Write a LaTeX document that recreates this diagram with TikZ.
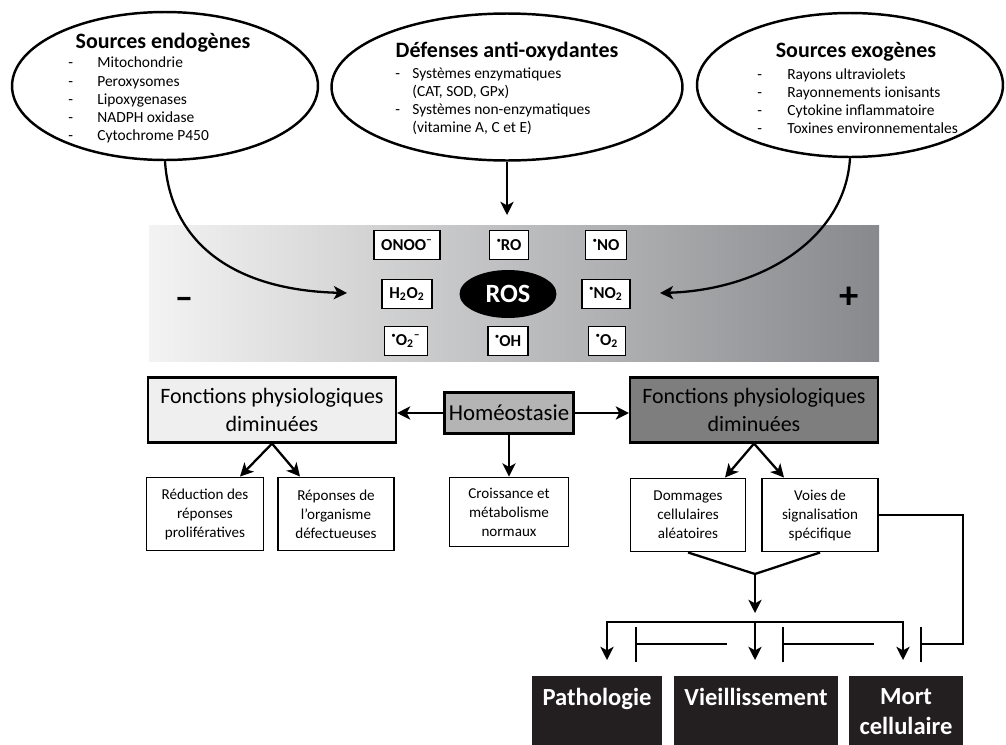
\documentclass[tikz,border=0pt]{standalone}
\usepackage{fontspec}
\setmainfont{Carlito}
\usepackage{xcolor}
\usetikzlibrary{arrows.meta, positioning, shapes.geometric}

\definecolor{bandlight}{HTML}{F3F3F3}
\definecolor{banddark}{HTML}{88898C}
\definecolor{boxlight}{HTML}{EFEFEF}
\definecolor{boxmid}{HTML}{B4B4B4}
\definecolor{boxdark}{HTML}{7E7E7E}
\definecolor{boxblack}{HTML}{231F20}

\newcommand{\radi}{\raisebox{0.55ex}{·}}
\newcommand{\chargeneg}{\textsuperscript{–}}

\begin{document}
\begin{tikzpicture}[x=0.02cm, y=-0.02cm, every node/.style={font=\small},
    >={Stealth[length=7.5pt, width=7.5pt, inset=2pt]}]
  \tikzset{
    source/.style={ellipse, draw, line width=1.4pt, minimum width=6.12cm, minimum height=2.96cm},
    heading/.style={font=\fontsize{12.5}{14}\selectfont\bfseries},
    itemlist/.style={align=left, font=\fontsize{8.8}{10.3}\selectfont, inner sep=0pt},
    species/.style={draw, fill=white, line width=0.9pt, font=\fontsize{9.5}{10}\selectfont\bfseries,
      minimum height=0.58cm, inner xsep=4pt},
    fbox/.style={draw, line width=1.2pt, minimum width=4.96cm, minimum height=1.3cm, align=center,
      font=\fontsize{12.5}{16}\selectfont},
    subbox/.style={draw, fill=white, line width=1.1pt, minimum height=1.46cm, align=center,
      font=\fontsize{8.6}{10.8}\selectfont},
    outcome/.style={fill=boxblack, text=white, minimum height=1.4cm, align=center, anchor=north,
      font=\fontsize{14}{17}\selectfont\bfseries, inner sep=0pt},
    link/.style={line width=1.3pt},
  }
  \useasboundingbox (0,0) rectangle (1006,744);

  % sources and defences
  \node[source] (endo) at (165,86) {};
  \node[source, minimum width=7.02cm, minimum height=2.94cm] (defense) at (507,87) {};
  \node[source, minimum height=2.88cm] (exo) at (850,85) {};

  \node[heading] (endotitle) at (163,43) {Sources endogènes};
  \node[itemlist, anchor=west] (endoitems) at (68,100) {%
    \makebox[0.58cm][l]{-}Mitochondrie\\
    \makebox[0.58cm][l]{-}Peroxysomes\\
    \makebox[0.58cm][l]{-}Lipoxygenases\\
    \makebox[0.58cm][l]{-}NADPH oxidase\\
    \makebox[0.58cm][l]{-}Cytochrome P450};

  \node[heading] (deftitle) at (507,52) {Défenses anti-oxydantes};
  \node[itemlist, anchor=west] (defitems) at (395,101) {%
    \makebox[0.34cm][l]{-}Systèmes enzymatiques\\
    \hspace*{0.34cm}(CAT, SOD, GPx)\\
    \makebox[0.34cm][l]{-}Systèmes non-enzymatiques\\
    \hspace*{0.34cm}(vitamine A, C et E)};

  \node[heading] (exotitle) at (856,52) {Sources exogènes};
  \node[itemlist, anchor=west] (exoitems) at (757,101) {%
    \makebox[0.6cm][l]{-}Rayons ultraviolets\\
    \makebox[0.6cm][l]{-}Rayonnements ionisants\\
    \makebox[0.6cm][l]{-}Cytokine inflammatoire\\
    \makebox[0.6cm][l]{-}Toxines environnementales};

  % ROS band
  \shade[left color=bandlight, right color=banddark] (149,225) rectangle (879,361);
  \node[font=\fontsize{21}{22}\selectfont\bfseries] (minus) at (184,303) {–};
  \node[font=\fontsize{22}{24}\selectfont\bfseries] (plus) at (849,298) {+};

  \node[species] (onoo) at (407,245) {ONOO\chargeneg};
  \node[species] (ro) at (509,245) {\radi RO};
  \node[species] (no) at (606,245) {\radi NO};
  \node[species] (hoo) at (407,294) {H\textsubscript{2}O\textsubscript{2}};
  \node[species] (noo) at (606,294) {\radi NO\textsubscript{2}};
  \node[species] (superox) at (406,341) {\radi O\textsubscript{2}\chargeneg};
  \node[species] (oh) at (508,341) {\radi OH};
  \node[species] (oo) at (607,341) {\radi O\textsubscript{2}};
  \node[ellipse, fill=black, text=white, minimum width=1.94cm, minimum height=0.96cm,
    font=\fontsize{15}{16}\selectfont\bfseries] (ros) at (508,294) {ROS};

  \coordinate (endoend) at (347,293);
  \coordinate (exoend) at (660,293);
  \coordinate (defend) at (507,215);
  \draw[link, ->] (endo.south) .. controls (170,240) and (230,290) .. (endoend);
  \draw[link, ->] (exo.south) .. controls (845,240) and (760,290) .. (exoend);
  \draw[link, ->] (defense.south) -- (defend);

  % physiological effects
  \node[fbox, fill=boxlight] (fleft) at (272,410) {Fonctions physiologiques\\diminuées};
  \node[fbox, fill=boxmid, minimum width=2.58cm, minimum height=0.82cm, inner xsep=1pt,
    font=\fontsize{13}{16}\selectfont] (homeo) at (509,413) {Homéostasie};
  \node[fbox, fill=boxdark] (fright) at (754,410) {Fonctions physiologiques\\diminuées};
  \draw[link, ->] (homeo.west) -- (homeo.west -| fleft.east);
  \draw[link, ->] (homeo.east) -- (homeo.east -| fright.west);

  \node[subbox, minimum width=2.34cm] (reduc) at (205,514) {Réduction des\\réponses\\prolifératives};
  \node[subbox, minimum width=2.32cm] (repon) at (336,514) {Réponses de\\l’organisme\\défectueuses};
  \node[subbox, minimum width=2.38cm, minimum height=1.38cm] (croiss) at (509,512) {Croissance et\\métabolisme\\normaux};
  \node[subbox, minimum width=2.3cm] (domm) at (688,515) {Dommages\\cellulaires\\aléatoires};
  \node[subbox, minimum width=2.32cm] (voies) at (820,515) {Voies de\\signalisation\\spécifique};

  \draw[link, ->] (fleft.south) -- ([xshift=0.7cm]reduc.north);
  \draw[link, ->] (fleft.south) -- ([xshift=-0.72cm]repon.north);
  \draw[link, ->] (homeo.south) -- (croiss.north);
  \draw[link, ->] (fright.south) -- ([xshift=0.74cm]domm.north);
  \draw[link, ->] (fright.south) -- ([xshift=-0.72cm]voies.north);

  % outcomes
  \coordinate (merge) at (755,574);
  \coordinate (mergeend) at (755,613);
  \draw[link] (domm.south) -- (merge) -- (voies.south);
  \draw[link, ->] (merge) -- (mergeend);

  \node[outcome, minimum width=2.6cm] (patho) at (597,676) {Pathologie\\~};
  \node[outcome, minimum width=3.28cm] (vieil) at (756,676) {Vieillissement\\~};
  \node[outcome, minimum width=2.28cm] (mort) at (906,676) {Mort\\cellulaire};

  \coordinate (distl) at (607,622);
  \coordinate (distm) at (755,622);
  \coordinate (distr) at (903,622);
  \coordinate (pathoin) at (607,660);
  \coordinate (vieilin) at (755,660);
  \coordinate (mortin) at (903,660);
  \draw[link, <->] (pathoin) -- (distl) -- (distr) -- (mortin);
  \draw[link, ->] (distm) -- (vieilin);

  \coordinate (inhA) at (727,644);
  \coordinate (barA) at (635,644);
  \coordinate (inhB) at (874,644);
  \coordinate (barB) at (782,644);
  \coordinate (loop) at (963,644);
  \coordinate (barC) at (920,644);
  \draw[link, -{Bar[width=0.7cm]}] (inhA) -- (barA);
  \draw[link, -{Bar[width=0.7cm]}] (inhB) -- (barB);
  \draw[link, -{Bar[width=0.7cm]}] (voies.east) -| (loop) -- (barC);
\end{tikzpicture}
\end{document}
